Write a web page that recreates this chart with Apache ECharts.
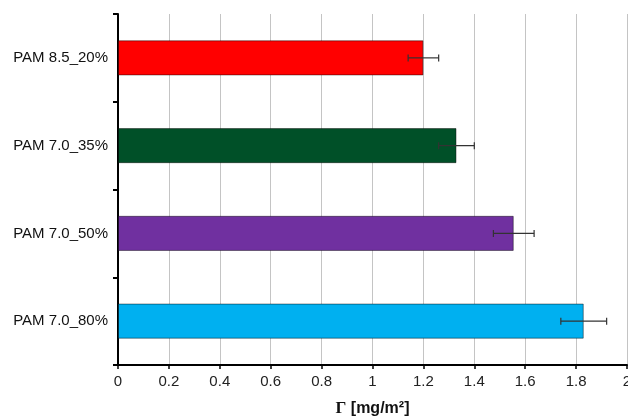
<!DOCTYPE html>
<html><head><meta charset="utf-8">
<script src="https://cdn.jsdelivr.net/npm/echarts@6/dist/echarts.min.js"></script>
<style>html,body{margin:0;padding:0;background:#fff}#c{width:628px;height:419px}</style>
</head><body><div id="c"></div>
<script>
var categories = ['PAM 8.5_20%', 'PAM 7.0_35%', 'PAM 7.0_50%', 'PAM 7.0_80%'];
var values = [1.20, 1.33, 1.555, 1.83];
var errors = [0.06, 0.07, 0.08, 0.09];
var colors = ['#ff0000', '#005028', '#7030a0', '#00b0f0'];
var xTicks = [0, 0.2, 0.4, 0.6, 0.8, 1, 1.2, 1.4, 1.6, 1.8, 2];

var chart = echarts.init(document.getElementById('c'));
var font = 'Liberation Sans, Arial, sans-serif';
chart.setOption({
  animation: false,
  grid: {left: 118, right: 1, top: 14, bottom: 54, outerBoundsMode: 'none', containLabel: false},
  xAxis: {
    type: 'value', min: 0, max: 2, interval: 0.2,
    axisLine: {show: true, lineStyle: {color: '#000', width: 2}},
    axisTick: {show: true, length: 4, lineStyle: {color: '#000', width: 1.5}},
    splitLine: {show: true, lineStyle: {color: '#c4c4c4', width: 1}},
    axisLabel: {color: '#222', fontSize: 15, fontFamily: font, margin: 9,
      formatter: function (v) { return String(parseFloat(v.toFixed(1))); }},
    name: '{g|Γ} [mg/m²]', nameLocation: 'middle', nameGap: 35,
    nameTextStyle: {fontSize: 16, fontWeight: 'bold', color: '#111', fontFamily: font,
      rich: {g: {fontFamily: 'Liberation Serif, Times New Roman, serif', fontSize: 17, fontWeight: 'bold', color: '#111'}}}
  },
  yAxis: {
    type: 'category', data: categories, inverse: true,
    axisLine: {show: true, lineStyle: {color: '#000', width: 2}},
    axisTick: {show: true, length: 5, lineStyle: {color: '#000', width: 2}},
    axisLabel: {color: '#111', fontSize: 15, fontFamily: font, margin: 10}
  },
  series: [{
    type: 'bar', barWidth: '40%',
    data: values.map(function (v, i) {
      return {value: v, itemStyle: {color: colors[i], borderColor: 'rgba(0,0,0,0.45)', borderWidth: 1}};
    })
  }, {
    type: 'custom',
    data: values.map(function (v, i) { return [i, v - errors[i], v + errors[i]]; }),
    renderItem: function (params, api) {
      var c = api.value(0);
      var lo = api.coord([api.value(1), c]);
      var hi = api.coord([api.value(2), c]);
      var h = 3.5;
      var st = {stroke: '#333', lineWidth: 1.2};
      return {type: 'group', children: [
        {type: 'line', shape: {x1: lo[0], y1: lo[1], x2: hi[0], y2: hi[1]}, style: st},
        {type: 'line', shape: {x1: lo[0], y1: lo[1] - h, x2: lo[0], y2: lo[1] + h}, style: st},
        {type: 'line', shape: {x1: hi[0], y1: hi[1] - h, x2: hi[0], y2: hi[1] + h}, style: st}
      ]};
    },
    encode: {x: [1, 2], y: 0},
    z: 5
  }]
});
</script></body></html>
